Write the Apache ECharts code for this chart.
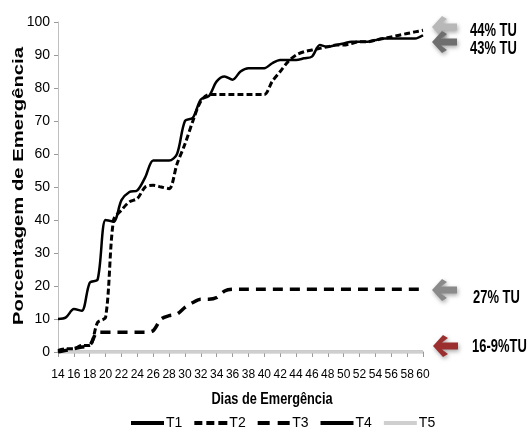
<!DOCTYPE html>
<html><head><meta charset="utf-8">
<script src="https://cdn.jsdelivr.net/npm/echarts@6/dist/echarts.min.js"></script>
<style>html,body{margin:0;padding:0;background:#fff}#c{width:531px;height:439px}</style>
</head><body><div id="c"></div>
<script>
var days = ['14','15','16','17','18','19','20','21','22','23','24','25','26','27','28','29','30','31','32','33','34','35','36','37','38','39','40','41','42','43','44','45','46','47','48','49','50','51','52','53','54','55','56','57','58','59','60'];
var T1 = [10,10.5,13,12.5,21,22,40,39.5,46,48.5,49,53,58,58,58,60,70,71,76.5,77.5,82,83.5,82.5,85,86,86,86,87.5,88.5,88.5,88.5,89,89.5,93,92.5,93,93.5,94,94,94,94.5,95,95,95,95,95,96];
var T2 = [0.5,1,1,2,2,9,10.5,40,43,45.5,46.5,50,50.5,50,49.5,57,63,70,76,78,78,78,78,78,78,78,78,82,85,88,90,91,91.5,92,92.5,93,93,93.5,94,94,94.5,95,95.5,96,96.5,97,97.5];
var T3 = [0,0.5,1,1.5,2,6,6,6,6,6,6,6,6.5,10,11,11.5,13.5,15,16,16,16.5,18.5,19,19,19,19,19,19,19,19,19,19,19,19,19,19,19,19,19,19,19,19,19,19,19,19,19];
var T4 = [0,0,0,0,0,0,0,0,0,0,0,0,0,0,0,0,0,0,0,0,0,0,0,0,0,0,0,0,0,0,0,0,0,0,0,0,0,0,0,0,0,0,0,0,0,0,0];
var T5 = [0,0,0,0,0,0,0,0,0,0,0,0,0,0,0,0,0,0,0,0,0,0,0,0,0,0,0,0,0,0,0,0,0,0,0,0,0,0,0,0,0,0,0,0,0,0,0];
var seriesNames = ['T1','T2','T3','T4','T5'];
var yTitle = 'Porcentagem de Emergência';
var xTitle = 'Dias de Emergência';
var notes = ['44% TU','43% TU','27% TU','16-9%TU'];

var FONT = "'Liberation Sans',Arial,sans-serif";
function arrow(x0, cy, color){
  return {type:'polygon', shape:{points:[[x0,cy],[x0+10,cy-11],[x0+15,cy-8],[x0+9,cy-3.5],[x0+25,cy-3.5],[x0+25,cy+3.5],[x0+9,cy+3.5],[x0+15,cy+8],[x0+10,cy+11]]},
    style:{fill:color, shadowBlur:4, shadowColor:'rgba(0,0,0,0.35)', shadowOffsetX:1, shadowOffsetY:2}};
}
function note(x, y, txt){
  return {type:'text', x:x, y:y, scaleX:0.72, style:{text:txt, font:"bold 18px "+FONT, fill:'#000', textVerticalAlign:'middle'}};
}
var chart = echarts.init(document.getElementById('c'), null, {renderer:'canvas'});
function mk(name, data, color, width, dash, z){
  return {name:name, type:'line', data:data, symbol:'none', smooth:0.3, z:z,
    lineStyle:{color:color, width:width, type:dash, cap:'butt'}, itemStyle:{color:color}};
}
var icons = {
  T1:'path://M0,0H33V4H0Z',
  T2:'path://M0,0H8V4H0Z M12,0H20V4H12Z M24,0H33V4H24Z',
  T3:'path://M0,0H12V4H0Z M20,0H32V4H20Z',
  T4:'path://M0,0H33V4H0Z',
  T5:'path://M0,0H33V4H0Z'
};
chart.setOption({
  animation:false,
  grid:{left:58, right:108, top:22, bottom:87, containLabel:false},
  legend:{bottom:4, left:126, itemWidth:33, itemHeight:4, itemGap:12,
    textStyle:{fontFamily:FONT, fontSize:14, color:'#000', padding:[0,0,0,-3]},
    data:seriesNames.map(function(n){return {name:n, icon:icons[n]};})},
  xAxis:{type:'category', data:days, boundaryGap:false,
    axisLine:{lineStyle:{color:'#c8c8c8', width:2}},
    axisTick:{interval:1, length:5, lineStyle:{color:'#999'}},
    axisLabel:{interval:1, fontFamily:FONT, fontSize:12, color:'#000', margin:17}},
  yAxis:{type:'value', min:0, max:100, interval:10,
    axisLine:{show:true, lineStyle:{color:'#c0c0c0', width:1}},
    axisTick:{show:true, inside:false, length:4, lineStyle:{color:'#999'}},
    splitLine:{show:false},
    axisLabel:{fontFamily:FONT, fontSize:14, color:'#000', margin:8}},
  series:[
    mk('T1', T1, '#000', 2.5, 'solid', 5),
    mk('T2', T2, '#000', 3, [6,3], 4),
    mk('T3', T3, '#000', 3.5, [10,7], 3),
    mk('T4', T4, '#000', 2.5, 'solid', 1),
    mk('T5', T5, '#cfcfcf', 3.5, 'solid', 2)
  ],
  graphic:[
    {type:'text', rotation:Math.PI/2, x:19, y:186, scaleX:1.35,
      style:{text:yTitle, font:"bold 15px "+FONT, fill:'#000', textAlign:'center', textVerticalAlign:'middle'}},
    {type:'text', x:272, y:399, scaleX:0.75, style:{text:xTitle, font:"bold 17px "+FONT, fill:'#000', textAlign:'center', textVerticalAlign:'middle'}},
    arrow(432, 27, '#b8b8b8'),
    arrow(432, 42, '#6e6e6e'),
    arrow(432, 290, '#8a8a8a'),
    arrow(433, 346, '#9b2f2f'),
    note(470, 31, notes[0]),
    note(470, 49, notes[1]),
    note(473, 298, notes[2]),
    note(472, 347, notes[3])
  ]
});
</script></body></html>
